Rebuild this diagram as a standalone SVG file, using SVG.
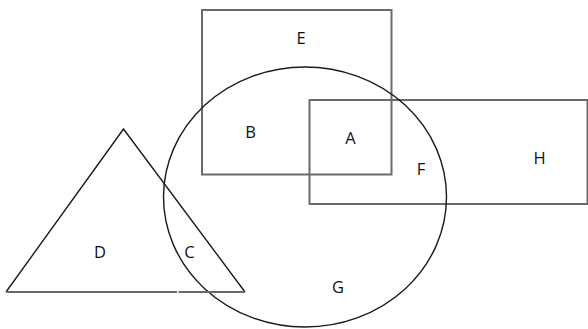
<svg xmlns="http://www.w3.org/2000/svg" width="588" height="329" viewBox="0 0 588 329">
<style>
.rect{fill:none;stroke:#6a6a6a;stroke-width:2}
.thin{fill:none;stroke:#1a1a1a;stroke-width:1.4}
.base{fill:none;stroke:#6a6a6a;stroke-width:2}
text{font-family:"Open Sans","Liberation Sans",sans-serif;font-size:16.5px;fill:#111;text-anchor:middle}
</style>
<rect width="588" height="329" fill="#fff"/>
<g id="E"><rect class="rect" x="202" y="10" width="189.5" height="164.5"/><text x="301" y="44">E</text></g>
<g id="H"><rect class="rect" x="309.5" y="100" width="278" height="104"/><text x="539.5" y="164">H</text></g>
<g id="G"><ellipse class="thin" cx="305" cy="197" rx="141.5" ry="130"/><text x="338" y="292.5">G</text></g>
<g id="D"><path class="thin" d="M6 292 L123.5 129 L245 292"/><path class="base" d="M6 292 H177 M178.5 292 H245"/><text x="100" y="258">D</text></g>
<g id="labels"><text x="250.5" y="138">B</text><text x="350.5" y="144">A</text><text x="421" y="175">F</text><text x="189.5" y="258">C</text></g>
</svg>
